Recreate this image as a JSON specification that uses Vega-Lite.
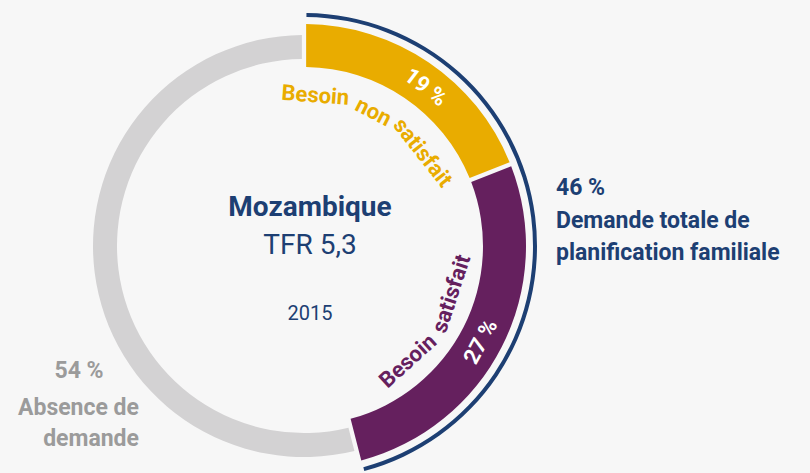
{
  "$schema": "https://vega.github.io/schema/vega-lite/v6.json",
  "width": 608,
  "height": 452,
  "autosize": {"type": "none"},
  "padding": {"left": 0, "top": 20, "right": 202, "bottom": 1},
  "background": "#f7f7f7",
  "config": {"view": {"stroke": null}, "font": "Roboto"},
  "datasets": {
    "segments": [
      {"segment": "Besoin non satisfait", "value": 19, "start": 0, "end": 19, "pct": "19 %"},
      {"segment": "Besoin satisfait", "value": 27, "start": 19, "end": 46, "pct": "27 %"},
      {"segment": "Absence de demande", "value": 54, "start": 46, "end": 100, "pct": "54 %"}
    ],
    "demand": [
      {"segment": "Demande totale de planification familiale", "value": 46, "start": 0, "end": 46, "pct": "46 %"}
    ],
    "labels": [
      {"txt": "Besoin", "at": 1.2, "group": "unmet-word"},
      {"txt": "non", "at": 7.6, "group": "unmet-word"},
      {"txt": "satisfait", "at": 14.4, "group": "unmet-word"},
      {"txt": "19 %", "at": 10.4, "group": "unmet-pct"},
      {"txt": "Besoin", "at": 38.3, "group": "met-word"},
      {"txt": "satisfait", "at": 30.0, "group": "met-word"},
      {"txt": "27 %", "at": 32.9, "group": "met-pct"}
    ]
  },
  "resolve": {"scale": {"angle": "independent"}},
  "layer": [
    {
      "data": {"name": "segments"},
      "transform": [{"filter": "datum.segment === 'Absence de demande'"}],
      "mark": {"type": "arc", "innerRadius": 187, "outerRadius": 211, "padAngle": 0.015},
      "encoding": {
        "theta": {"field": "start", "type": "quantitative", "scale": {"domain": [0, 100]}},
        "theta2": {"field": "end"},
        "color": {"field": "segment", "type": "nominal", "legend": null,
          "scale": {"domain": ["Besoin non satisfait", "Besoin satisfait", "Absence de demande"], "range": ["#E9AC00", "#65205E", "#D3D2D3"]}}
      }
    },
    {
      "data": {"name": "segments"},
      "transform": [{"filter": "datum.segment !== 'Absence de demande'"}],
      "mark": {"type": "arc", "innerRadius": 179, "outerRadius": 222, "padAngle": 0.015},
      "encoding": {
        "theta": {"field": "start", "type": "quantitative"},
        "theta2": {"field": "end"},
        "color": {"field": "segment", "type": "nominal", "legend": null}
      }
    },
    {
      "data": {"name": "demand"},
      "mark": {"type": "arc", "innerRadius": 229, "outerRadius": 233, "padAngle": 0.015, "color": "#1D3F73"},
      "encoding": {
        "theta": {"field": "start", "type": "quantitative"},
        "theta2": {"field": "end"}
      }
    },
    {
      "data": {"name": "labels"},
      "transform": [{"filter": "datum.group === 'unmet-word'"}],
      "mark": {"type": "text", "radius": 151, "fontSize": 22, "fontWeight": "bold", "color": "#E9AC00", "baseline": "middle", "align": "center"},
      "encoding": {
        "theta": {"field": "at", "type": "quantitative"},
        "angle": {"field": "at", "type": "quantitative", "scale": {"domain": [0, 100], "range": [0, 360]}, "legend": null},
        "text": {"field": "txt"}
      }
    },
    {
      "data": {"name": "labels"},
      "transform": [{"filter": "datum.group === 'unmet-pct'"}],
      "mark": {"type": "text", "radius": 200, "fontSize": 22, "fontWeight": "bold", "color": "white", "baseline": "middle", "align": "center"},
      "encoding": {
        "theta": {"field": "at", "type": "quantitative"},
        "angle": {"field": "at", "type": "quantitative", "scale": {"domain": [0, 100], "range": [0, 360]}, "legend": null},
        "text": {"field": "txt"}
      }
    },
    {
      "data": {"name": "labels"},
      "transform": [{"filter": "datum.group === 'met-word'"}],
      "mark": {"type": "text", "radius": 155, "fontSize": 22, "fontWeight": "bold", "color": "#65205E", "baseline": "middle", "align": "center"},
      "encoding": {
        "theta": {"field": "at", "type": "quantitative"},
        "angle": {"field": "at", "type": "quantitative", "scale": {"domain": [0, 100], "range": [-180, 180]}, "legend": null},
        "text": {"field": "txt"}
      }
    },
    {
      "data": {"name": "labels"},
      "transform": [{"filter": "datum.group === 'met-pct'"}],
      "mark": {"type": "text", "radius": 201, "fontSize": 22, "fontWeight": "bold", "color": "white", "baseline": "middle", "align": "center"},
      "encoding": {
        "theta": {"field": "at", "type": "quantitative"},
        "angle": {"field": "at", "type": "quantitative", "scale": {"domain": [0, 100], "range": [-180, 180]}, "legend": null},
        "text": {"field": "txt"}
      }
    },
    {
      "data": {"values": [{}]},
      "mark": {"type": "text", "text": "Mozambique", "fontSize": 28, "fontWeight": "bold", "color": "#1D3F73", "baseline": "alphabetic", "align": "center", "dx": 6, "dy": -30},
      "encoding": {}
    },
    {
      "data": {"values": [{}]},
      "mark": {"type": "text", "text": "TFR 5,3", "fontSize": 28, "color": "#1D3F73", "baseline": "alphabetic", "align": "center", "dx": 6, "dy": 8},
      "encoding": {}
    },
    {
      "data": {"values": [{}]},
      "mark": {"type": "text", "text": "2015", "fontSize": 20, "color": "#1D3F73", "baseline": "alphabetic", "align": "center", "dx": 6, "dy": 74},
      "encoding": {}
    },
    {
      "data": {"name": "demand"},
      "mark": {"type": "text", "fontSize": 23, "fontWeight": "bold", "color": "#1D3F73", "baseline": "alphabetic", "align": "left", "dx": 252, "dy": -51},
      "encoding": {"text": {"field": "pct"}}
    },
    {
      "data": {"values": [{}]},
      "mark": {"type": "text", "text": ["Demande totale de", "planification familiale"], "lineHeight": 32, "fontSize": 23, "fontWeight": "bold", "color": "#1D3F73", "baseline": "alphabetic", "align": "left", "dx": 252, "dy": -18},
      "encoding": {}
    },
    {
      "data": {"name": "segments"},
      "transform": [{"filter": "datum.segment === 'Absence de demande'"}],
      "mark": {"type": "text", "fontSize": 23, "fontWeight": "bold", "color": "#9B9B9B", "baseline": "alphabetic", "align": "center", "dx": -225, "dy": 132},
      "encoding": {"text": {"field": "pct"}}
    },
    {
      "data": {"values": [{}]},
      "mark": {"type": "text", "text": ["Absence de", "demande"], "lineHeight": 31, "fontSize": 23, "fontWeight": "bold", "color": "#9B9B9B", "baseline": "alphabetic", "align": "right", "dx": -165, "dy": 169},
      "encoding": {}
    }
  ]
}
